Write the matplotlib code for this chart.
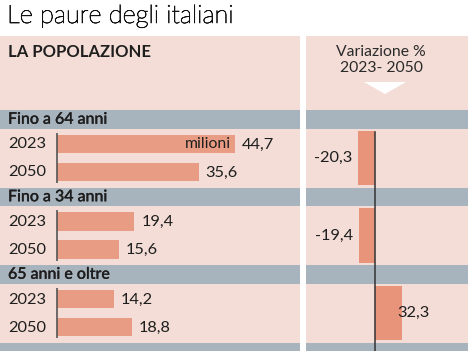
import matplotlib
matplotlib.use("Agg")
import matplotlib.pyplot as plt
from matplotlib.patches import Rectangle, Polygon
from matplotlib.transforms import offset_copy
import matplotlib.patheffects as pe

plt.rcParams['font.family'] = ['Lato', 'DejaVu Sans']

# ---- data ----
groups = ["Fino a 64 anni", "Fino a 34 anni", "65 anni e oltre"]
years = ["2023", "2050"]
values_2023 = [44.7, 19.4, 14.2]
values_2050 = [35.6, 15.6, 18.8]
variation = [-20.3, -19.4, 32.3]
title = "Le paure degli italiani"
subtitle = "LA POPOLAZIONE"
var_header = "Variazione %\n2023- 2050"
unit_label = "milioni"

# ---- style ----
W, H = 474, 351
DPI = 100
PINK = "#f3ddd6"
BAR = "#e89c84"
BAR_R = "#e8947a"
BAND = "#a8b4bd"
TXT = "#1e1e1e"
LINE = "#555555"

fig = plt.figure(figsize=(W / DPI, H / DPI), dpi=DPI)
fig.patch.set_facecolor("white")

def px_rect(x0, y0, w, h):
    # pixel coords from top-left -> figure fraction
    return [x0 / W, 1 - (y0 + h) / H, w / W, h / H]

# background panels
bg = fig.add_axes([0, 0, 1, 1])
bg.set_xlim(0, W)
bg.set_ylim(H, 0)
bg.axis("off")
bg.add_patch(Rectangle((0, 36), 300, H - 36, color=PINK, lw=0))
bg.add_patch(Rectangle((306, 36), 162, H - 36, color=PINK, lw=0))

period = 77.5
band_top0 = 110
band_h = 18.5
for g in range(4):
    t = band_top0 + g * period
    bg.add_patch(Rectangle((0, t), 300, band_h, color=BAND, lw=0))
    bg.add_patch(Rectangle((306, t), 162, band_h, color=BAND, lw=0))
    if g < len(groups):
        bg.text(8, t + band_h / 2 + 0.5, groups[g], fontsize=11.5, color=TXT,
                va="center", ha="left", fontweight="medium",
                path_effects=[pe.withStroke(linewidth=0.2, foreground=TXT)])

bg.text(7, 16, title, fontsize=18.3, color="#111111", va="center", ha="left",
        fontweight="light",
        path_effects=[pe.withStroke(linewidth=0.5, foreground="#111111")])
bg.text(8, 52, subtitle, fontsize=12, color=TXT, va="center", ha="left",
        fontweight="bold")
bg.text(381, 60, var_header, fontsize=11.3, color="#2a2a2a", va="center",
        ha="center", linespacing=1.1)
bg.add_patch(Polygon([(364, 82), (406, 82), (385, 94)], closed=True,
                     color="white", lw=0))

# bar centers (layout)
c2023 = [band_top0 + g * period + 34 for g in range(len(groups))]
c2050 = [band_top0 + g * period + 62 for g in range(len(groups))]
bar_h = 18.5

# ---- left bar axes ----
axL = fig.add_axes(px_rect(0, 0, 300, H))
axL.set_ylim(H, 0)
axL.set_xlim(-57 / 3.98, 243 / 3.98)
axL.axis("off")
axL.barh(c2023, values_2023, height=bar_h, color=BAR, lw=0)
axL.barh(c2050, values_2050, height=bar_h, color=BAR, lw=0)
lab_tr = offset_copy(axL.transData, fig=fig, x=7, y=0, units="dots")
for cy, v in list(zip(c2023, values_2023)) + list(zip(c2050, values_2050)):
    axL.text(v, cy + 0.5, f"{v:.1f}".replace(".", ","), transform=lab_tr,
             fontsize=11.8, color=TXT, va="center", ha="left")
for g in range(len(groups)):
    axL.plot([0, 0], [c2023[g] - bar_h / 2 - 2, c2050[g] + bar_h / 2 + 2],
             color=LINE, lw=1.2, solid_capstyle="butt")
    for yl, cy in zip(years, (c2023[g], c2050[g])):
        axL.text(-57 / 3.98 + 8 / 3.98, cy + 0.5, yl, fontsize=11.8, color=TXT,
                 va="center", ha="left")
unit_tr = offset_copy(axL.transData, fig=fig, x=-4, y=0, units="dots")
axL.text(values_2023[0], c2023[0] + 0.5, unit_label, transform=unit_tr,
         fontsize=11.3, color=TXT, va="center", ha="right")

# ---- right variation axes ----
axR = fig.add_axes(px_rect(306, 0, 162, H))
axR.set_ylim(H, 0)
axR.set_xlim((306 - 375) / 0.84, (468 - 375) / 0.84)
axR.axis("off")
cmid = [(a + b) / 2 for a, b in zip(c2023, c2050)]
span = [(b - a) + bar_h + 8 for a, b in zip(c2023, c2050)]
axR.barh(cmid, variation, height=span, color=BAR_R, lw=0)
axR.plot([0, 0], [132, H], color="#333333", lw=1.1)
neg_tr = offset_copy(axR.transData, fig=fig, x=-6, y=0, units="dots")
pos_tr = offset_copy(axR.transData, fig=fig, x=-5, y=0, units="dots")
for cy, v in zip(cmid, variation):
    s = f"{v:.1f}".replace(".", ",")
    if v < 0:
        axR.text(v, cy, s, transform=neg_tr, fontsize=11.8, color=TXT,
                 va="center", ha="right")
    else:
        axR.text(v, cy, s, transform=pos_tr, fontsize=11.8, color=TXT,
                 va="center", ha="left")

fig.savefig("out.png", dpi=DPI)
